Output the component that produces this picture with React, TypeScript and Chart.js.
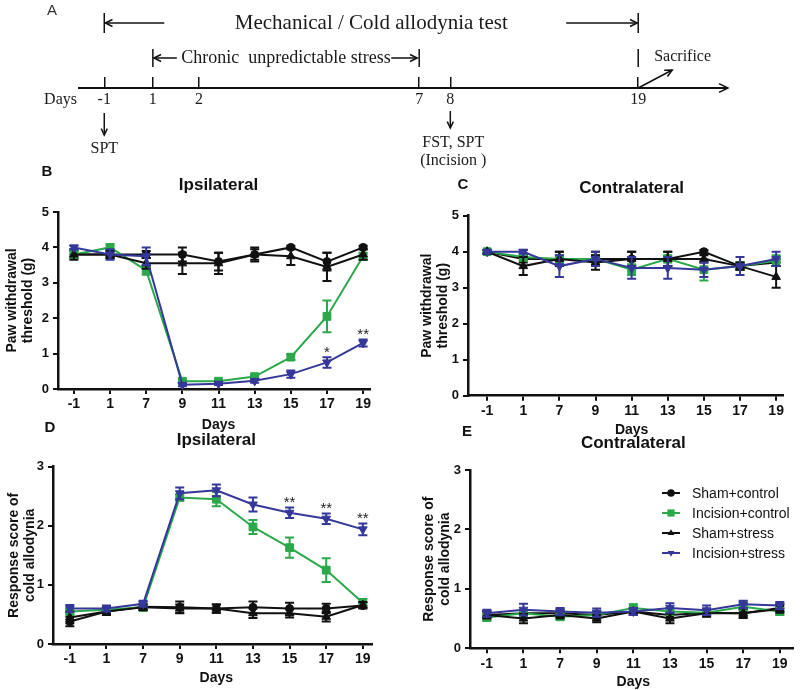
import React, { useEffect, useRef } from 'react';
import { Chart, registerables } from 'chart.js';

Chart.register(...registerables);

const FONT = "'Liberation Sans', Arial, Helvetica, sans-serif";
const SERIF = "'Liberation Serif', 'Times New Roman', Times, serif";
const INK = '#111111';
const GREEN = '#2aa84a';
const BLUE = '#35379a';

Chart.defaults.font.family = FONT;

// ---------- data ----------
const DAYS = ['-1', '1', '7', '9', '11', '13', '15', '17', '19'];
const SERIES_LABELS = ['Sham+control', 'Incision+control', 'Sham+stress', 'Incision+stress'];

// B: mechanical, ipsilateral (g)
const SHAM_CTRL_B = [3.8, 3.8, 3.8, 3.8, 3.6, 3.8, 4.0, 3.6, 4.0];
const SHAM_CTRL_B_ERR = [0.1, 0.1, 0.1, 0.2, 0.25, 0.2, 0.05, 0.25, 0.05];
const INC_CTRL_B = [3.8, 4.0, 3.35, 0.22, 0.22, 0.35, 0.9, 2.05, 3.75];
const INC_CTRL_B_ERR = [0.1, 0.08, 0.12, 0.05, 0.04, 0.05, 0.08, 0.45, 0.1];
const SHAM_STRESS_B = [3.8, 3.8, 3.55, 3.55, 3.55, 3.8, 3.75, 3.45, 3.8];
const SHAM_STRESS_B_ERR = [0.15, 0.1, 0.15, 0.3, 0.3, 0.15, 0.25, 0.4, 0.15];
const INC_STRESS_B = [4.0, 3.8, 3.75, 0.12, 0.15, 0.23, 0.42, 0.75, 1.3];
const INC_STRESS_B_ERR = [0.05, 0.15, 0.25, 0.04, 0.04, 0.05, 0.1, 0.15, 0.1];
const STARS_B = ['', '', '', '', '', '', '', '*', '**'];

// C: mechanical, contralateral (g)
const SHAM_CTRL_C = [4.0, 3.8, 3.8, 3.8, 3.8, 3.8, 4.0, 3.6, 3.7];
const SHAM_CTRL_C_ERR = [0.05, 0.1, 0.2, 0.2, 0.2, 0.2, 0.05, 0.1, 0.1];
const INC_CTRL_C = [4.0, 3.85, 3.8, 3.8, 3.5, 3.8, 3.5, 3.6, 3.75];
const INC_CTRL_C_ERR = [0.05, 0.1, 0.1, 0.1, 0.15, 0.1, 0.3, 0.1, 0.15];
const SHAM_STRESS_C = [4.0, 3.6, 3.8, 3.7, 3.8, 3.8, 3.8, 3.6, 3.3];
const SHAM_STRESS_C_ERR = [0.05, 0.25, 0.2, 0.2, 0.2, 0.2, 0.1, 0.1, 0.3];
const INC_STRESS_C = [4.0, 4.0, 3.6, 3.8, 3.55, 3.55, 3.5, 3.6, 3.8];
const INC_STRESS_C_ERR = [0.05, 0.05, 0.3, 0.2, 0.3, 0.3, 0.2, 0.25, 0.2];

// D: cold allodynia, ipsilateral (score)
const SHAM_CTRL_D = [0.38, 0.55, 0.63, 0.62, 0.6, 0.62, 0.6, 0.6, 0.65];
const SHAM_CTRL_D_ERR = [0.08, 0.06, 0.05, 0.1, 0.07, 0.1, 0.1, 0.08, 0.05];
const INC_CTRL_D = [0.55, 0.58, 0.62, 2.48, 2.45, 1.98, 1.63, 1.25, 0.7];
const INC_CTRL_D_ERR = [0.05, 0.05, 0.05, 0.05, 0.12, 0.12, 0.17, 0.2, 0.06];
const SHAM_STRESS_D = [0.45, 0.55, 0.62, 0.6, 0.6, 0.52, 0.52, 0.46, 0.66];
const SHAM_STRESS_D_ERR = [0.1, 0.06, 0.05, 0.07, 0.07, 0.08, 0.07, 0.08, 0.05];
const INC_STRESS_D = [0.6, 0.6, 0.68, 2.55, 2.6, 2.36, 2.22, 2.12, 1.94];
const INC_STRESS_D_ERR = [0.06, 0.05, 0.05, 0.1, 0.1, 0.12, 0.09, 0.09, 0.1];
const STARS_D = ['', '', '', '', '', '', '**', '**', '**'];

// E: cold allodynia, contralateral (score)
const SHAM_CTRL_E = [0.56, 0.59, 0.59, 0.56, 0.62, 0.56, 0.6, 0.59, 0.68];
const SHAM_CTRL_E_ERR = [0.06, 0.06, 0.06, 0.06, 0.06, 0.06, 0.06, 0.06, 0.06];
const INC_CTRL_E = [0.52, 0.59, 0.53, 0.56, 0.68, 0.62, 0.6, 0.7, 0.62];
const INC_CTRL_E_ERR = [0.06, 0.06, 0.05, 0.06, 0.06, 0.06, 0.06, 0.06, 0.06];
const SHAM_STRESS_E = [0.56, 0.5, 0.56, 0.5, 0.62, 0.5, 0.59, 0.59, 0.66];
const SHAM_STRESS_E_ERR = [0.06, 0.08, 0.06, 0.06, 0.06, 0.08, 0.06, 0.08, 0.06];
const INC_STRESS_E = [0.59, 0.65, 0.62, 0.6, 0.62, 0.68, 0.64, 0.74, 0.72];
const INC_STRESS_E_ERR = [0.06, 0.1, 0.06, 0.07, 0.06, 0.08, 0.08, 0.06, 0.06];

// A: timeline
const TIMELINE_DAYS = ['-1', '1', '2', '7', '8', '19'];
// schematic (non-proportional) placement of the day marks along the diagram, 0-100
const TIMELINE_LAYOUT = [3.9, 11.4, 18.5, 52.5, 57.3, 86.3];

// ---------- styles ----------
const SERIES_STYLE = [
  { color: INK, pointStyle: 'circle', rotation: 0, radius: 4 },
  { color: GREEN, pointStyle: 'rect', rotation: 0, radius: 5.5 },
  { color: INK, pointStyle: 'triangle', rotation: 0, radius: 5 },
  { color: BLUE, pointStyle: 'triangle', rotation: 180, radius: 5 },
];

type Box = { x: number; y: number; w: number; h: number };
type PanelSpec = {
  letter: string;
  title: string;
  yTitle: string[];
  yMax: number;
  values: number[][];
  errors: number[][];
  stars?: string[];
  legendAt?: [number, number];
  box: Box;
  area: { l: number; t: number; r: number; b: number };
  xMin: number;
  xMax: number;
  letterAt: [number, number];
  titleY: number;
  xTitleY: number;
  yTitleX: number;
};

const PANELS: PanelSpec[] = [
  {
    letter: 'B', title: 'Ipsilateral', yTitle: ['Paw withdrawal', 'threshold (g)'], yMax: 5,
    values: [SHAM_CTRL_B, INC_CTRL_B, SHAM_STRESS_B, INC_STRESS_B],
    errors: [SHAM_CTRL_B_ERR, INC_CTRL_B_ERR, SHAM_STRESS_B_ERR, INC_STRESS_B_ERR],
    stars: STARS_B,
    box: { x: 0, y: 160, w: 400, h: 280 }, area: { l: 58, t: 212, r: 370, b: 389 },
    xMin: -0.44, xMax: 8.19, letterAt: [47, 172], titleY: 185, xTitleY: 425, yTitleX: 12,
  },
  {
    letter: 'C', title: 'Contralateral', yTitle: ['Paw withdrawal', 'threshold (g)'], yMax: 5,
    values: [SHAM_CTRL_C, INC_CTRL_C, SHAM_STRESS_C, INC_STRESS_C],
    errors: [SHAM_CTRL_C_ERR, INC_CTRL_C_ERR, SHAM_STRESS_C_ERR, INC_STRESS_C_ERR],
    box: { x: 400, y: 160, w: 400, h: 280 }, area: { l: 468, t: 215.7, r: 783, b: 395.7 },
    xMin: -0.53, xMax: 8.19, letterAt: [463, 185], titleY: 188, xTitleY: 430, yTitleX: 427,
  },
  {
    letter: 'D', title: 'Ipsilateral', yTitle: ['Response score of', 'cold allodynia'], yMax: 3,
    values: [SHAM_CTRL_D, INC_CTRL_D, SHAM_STRESS_D, INC_STRESS_D],
    errors: [SHAM_CTRL_D_ERR, INC_CTRL_D_ERR, SHAM_STRESS_D_ERR, INC_STRESS_D_ERR],
    stars: STARS_D,
    box: { x: 0, y: 420, w: 400, h: 270 }, area: { l: 53, t: 466.7, r: 372, b: 644 },
    xMin: -0.46, xMax: 8.25, letterAt: [50, 428], titleY: 440, xTitleY: 678, yTitleX: 14,
  },
  {
    letter: 'E', title: 'Contralateral', yTitle: ['Response score of', 'cold allodynia'], yMax: 3,
    values: [SHAM_CTRL_E, INC_CTRL_E, SHAM_STRESS_E, INC_STRESS_E],
    errors: [SHAM_CTRL_E_ERR, INC_CTRL_E_ERR, SHAM_STRESS_E_ERR, INC_STRESS_E_ERR],
    legendAt: [671, 493],
    box: { x: 400, y: 420, w: 400, h: 270 }, area: { l: 470, t: 470, r: 793, b: 648.3 },
    xMin: -0.46, xMax: 8.36, letterAt: [467, 432], titleY: 443, xTitleY: 682, yTitleX: 429,
  },
];

// ---------- drawing helpers ----------
function drawMarker(ctx: CanvasRenderingContext2D, style: string, rot: number, x: number, y: number, r: number) {
  ctx.beginPath();
  if (style === 'circle') {
    ctx.arc(x, y, r, 0, Math.PI * 2);
  } else if (style === 'rect') {
    const s = r * 0.9;
    ctx.rect(x - s, y - s, 2 * s, 2 * s);
  } else {
    const d = rot === 180 ? -1 : 1;
    ctx.moveTo(x, y - d * r);
    ctx.lineTo(x - r * 0.9, y + d * r * 0.55);
    ctx.lineTo(x + r * 0.9, y + d * r * 0.55);
    ctx.closePath();
  }
  ctx.fill();
}

function arrowHead(ctx: CanvasRenderingContext2D, x1: number, y1: number, x2: number, y2: number, len = 8) {
  const a = Math.atan2(y2 - y1, x2 - x1);
  const s = 0.45;
  ctx.beginPath();
  ctx.moveTo(x2 - len * Math.cos(a - s), y2 - len * Math.sin(a - s));
  ctx.lineTo(x2, y2);
  ctx.lineTo(x2 - len * Math.cos(a + s), y2 - len * Math.sin(a + s));
  ctx.stroke();
}

function arrow(ctx: CanvasRenderingContext2D, x1: number, y1: number, x2: number, y2: number, len = 8) {
  ctx.beginPath();
  ctx.moveTo(x1, y1);
  ctx.lineTo(x2, y2);
  ctx.stroke();
  arrowHead(ctx, x1, y1, x2, y2, len);
}

function vbar(ctx: CanvasRenderingContext2D, x: number, y1: number, y2: number) {
  ctx.beginPath();
  ctx.moveTo(x, y1);
  ctx.lineTo(x, y2);
  ctx.stroke();
}

// ---------- timeline (panel A) ----------
const timelineDecor = {
  id: 'timelineDecor',
  afterDraw(chart: any) {
    const ctx: CanvasRenderingContext2D = chart.ctx;
    const xs = chart.scales.x;
    const ca = chart.chartArea;
    const at = (d: string) => xs.getPixelForValue(TIMELINE_LAYOUT[TIMELINE_DAYS.indexOf(d)]);
    const axisY = ca.bottom;
    ctx.save();
    ctx.strokeStyle = INK;
    ctx.fillStyle = '#1a1a1a';
    ctx.lineWidth = 1.5;
    ctx.textBaseline = 'middle';

    // axis arrow head
    arrowHead(ctx, ca.left, axisY, ca.right + 1, axisY, 10);

    // panel letter
    ctx.font = `15px ${FONT}`;
    ctx.textAlign = 'center';
    ctx.fillStyle = '#333';
    ctx.fillText('A', 52, 11);
    ctx.fillStyle = '#1a1a1a';

    // "Days" label
    ctx.font = `16px ${SERIF}`;
    ctx.textAlign = 'right';
    ctx.fillText('Days', ca.left - 2, axisY + 12);

    // row 1: Mechanical / Cold allodynia test
    const x0 = at('-1');
    const x19 = at('19');
    const r1 = 23;
    vbar(ctx, x0, 13, 33);
    vbar(ctx, x19, 13, 33);
    arrow(ctx, x0 + 60, r1, x0 + 1, r1);
    arrow(ctx, x19 - 72, r1, x19 - 1, r1);
    ctx.font = `21px ${SERIF}`;
    ctx.textAlign = 'center';
    ctx.fillText('Mechanical / Cold allodynia test', (x0 + x19) / 2, r1);

    // row 2: Chronic unpredictable stress
    const x1 = at('1');
    const x7 = at('7');
    const r2 = 58;
    vbar(ctx, x1, 49, 67);
    vbar(ctx, x7, 49, 67);
    vbar(ctx, x19, 49, 67);
    arrow(ctx, x1 + 24, r2, x1 + 1, r2);
    arrow(ctx, x7 - 28, r2, x7 - 2, r2);
    ctx.font = `18px ${SERIF}`;
    ctx.fillText('Chronic  unpredictable stress', (x1 + x7) / 2, r2);

    // sacrifice
    ctx.textAlign = 'left';
    ctx.font = `16px ${SERIF}`;
    ctx.fillText('Sacrifice', x19 + 16, 57);
    arrow(ctx, x19, axisY, x19 + 34, axisY - 18, 8);

    // down arrows and notes
    const x8 = at('8');
    arrow(ctx, x0, 113, x0, 135, 7);
    arrow(ctx, x8, 111, x8, 128, 7);
    ctx.textAlign = 'center';
    ctx.font = `16px ${SERIF}`;
    ctx.fillText('SPT', x0, 149);
    ctx.fillText('FST, SPT', x8 + 3, 143);
    ctx.fillText('(Incision )', x8 + 3, 161);
    ctx.restore();
  },
};

function timelineConfig(): any {
  return {
    type: 'scatter',
    data: { datasets: [{ data: [] }] },
    options: {
      animation: false,
      responsive: false,
      maintainAspectRatio: false,
      events: [],
      layout: { padding: { left: 79, right: 73, top: 77, bottom: 62 } },
      plugins: { legend: { display: false }, tooltip: { enabled: false } },
      scales: {
        x: {
          type: 'linear',
          min: 0,
          max: 100,
          afterBuildTicks: (s: any) => {
            s.ticks = TIMELINE_LAYOUT.map((v) => ({ value: v }));
          },
          afterFit: (s: any) => {
            s.height = 20;
          },
          grid: { display: true, drawOnChartArea: true, drawTicks: false, color: INK, lineWidth: 1.5 },
          border: { display: true, color: INK, width: 2 },
          ticks: {
            autoSkip: false,
            maxRotation: 0,
            padding: 2,
            color: '#1a1a1a',
            font: { family: SERIF, size: 16 },
            callback: (_v: any, i: number) => TIMELINE_DAYS[i],
          },
        },
        y: { display: false, min: 0, max: 1 },
      },
    },
    plugins: [timelineDecor],
  };
}

// ---------- data panels ----------
function errorBarPlugin(p: PanelSpec) {
  return {
    id: 'errorBars',
    beforeDatasetDraw(chart: any, args: any) {
      const i = args.index;
      const st = SERIES_STYLE[i];
      const vals = p.values[i];
      const errs = p.errors[i];
      const xs = chart.scales.x;
      const ys = chart.scales.y;
      const ctx: CanvasRenderingContext2D = chart.ctx;
      ctx.save();
      ctx.strokeStyle = st.color;
      ctx.lineWidth = 2;
      vals.forEach((v, j) => {
        const e = errs[j];
        if (!e) return;
        const px = xs.getPixelForValue(j);
        const y1 = ys.getPixelForValue(v + e);
        const y2 = ys.getPixelForValue(v - e);
        ctx.beginPath();
        ctx.moveTo(px, y1);
        ctx.lineTo(px, y2);
        ctx.moveTo(px - 4.5, y1);
        ctx.lineTo(px + 4.5, y1);
        ctx.moveTo(px - 4.5, y2);
        ctx.lineTo(px + 4.5, y2);
        ctx.stroke();
      });
      ctx.restore();
    },
  };
}

function decorPlugin(p: PanelSpec) {
  return {
    id: 'panelDecor',
    afterDraw(chart: any) {
      const ctx: CanvasRenderingContext2D = chart.ctx;
      const xs = chart.scales.x;
      const ys = chart.scales.y;
      const ox = p.box.x;
      const oy = p.box.y;
      const cx = (xs.getPixelForValue(0) + xs.getPixelForValue(DAYS.length - 1)) / 2;
      ctx.save();
      ctx.fillStyle = INK;
      ctx.textAlign = 'center';
      ctx.textBaseline = 'middle';
      ctx.font = `bold 15px ${FONT}`;
      ctx.fillText(p.letter, p.letterAt[0] - ox, p.letterAt[1] - oy);
      ctx.font = `bold 17px ${FONT}`;
      ctx.fillText(p.title, cx, p.titleY - oy);
      ctx.font = `bold 14px ${FONT}`;
      ctx.fillText('Days', cx, p.xTitleY - oy);

      if (p.stars) {
        const k = 3;
        ctx.font = `15px ${FONT}`;
        ctx.textBaseline = 'alphabetic';
        ctx.fillStyle = '#222';
        p.stars.forEach((s, j) => {
          if (!s) return;
          const top = ys.getPixelForValue(p.values[k][j] + p.errors[k][j]);
          ctx.fillText(s, xs.getPixelForValue(j), top);
        });
      }

      if (p.legendAt) {
        const lx = p.legendAt[0] - ox;
        const ly = p.legendAt[1] - oy;
        ctx.font = `14px ${FONT}`;
        ctx.textAlign = 'left';
        ctx.textBaseline = 'middle';
        SERIES_LABELS.forEach((label, i) => {
          const st = SERIES_STYLE[i];
          const y = ly + i * 20;
          ctx.strokeStyle = st.color;
          ctx.fillStyle = st.color;
          ctx.lineWidth = 2;
          ctx.beginPath();
          ctx.moveTo(lx - 9, y);
          ctx.lineTo(lx + 9, y);
          ctx.stroke();
          drawMarker(ctx, st.pointStyle, st.rotation, lx, y, st.pointStyle === 'rect' ? 4 : 3.8);
          ctx.fillStyle = INK;
          ctx.fillText(label, lx + 21, y + 1);
        });
      }
      ctx.restore();
    },
  };
}

function panelConfig(p: PanelSpec): any {
  const lhY = 14 * 1.18;
  const axisGrid = {
    display: true,
    drawOnChartArea: false,
    drawTicks: true,
    tickLength: 5,
    tickWidth: 2,
    lineWidth: 2,
    color: INK,
  };
  const axisBorder = { display: true, color: INK, width: 2.5 };
  return {
    type: 'line',
    data: {
      datasets: SERIES_LABELS.map((label, i) => {
        const st = SERIES_STYLE[i];
        return {
          label,
          data: p.values[i].map((v, j) => ({ x: j, y: v })),
          borderColor: st.color,
          backgroundColor: st.color,
          borderWidth: 2,
          pointStyle: st.pointStyle,
          pointRotation: st.rotation,
          pointRadius: st.radius,
          pointBackgroundColor: st.color,
          pointBorderColor: st.color,
          pointBorderWidth: 1,
          tension: 0,
          fill: false,
          clip: false,
          order: 3 - i,
        };
      }),
    },
    options: {
      animation: false,
      responsive: false,
      maintainAspectRatio: false,
      events: [],
      layout: {
        padding: {
          left: 0,
          top: p.area.t - p.box.y,
          right: p.box.x + p.box.w - p.area.r,
          bottom: 0,
        },
      },
      plugins: { legend: { display: false }, tooltip: { enabled: false }, title: { display: false } },
      scales: {
        x: {
          type: 'linear',
          min: p.xMin,
          max: p.xMax,
          afterBuildTicks: (s: any) => {
            s.ticks = DAYS.map((_, i) => ({ value: i }));
          },
          afterFit: (s: any) => {
            s.height = p.box.y + p.box.h - p.area.b;
          },
          grid: axisGrid,
          border: axisBorder,
          ticks: {
            autoSkip: false,
            maxRotation: 0,
            padding: 2,
            color: INK,
            font: { size: 14, weight: 'bold' },
            callback: (_v: any, i: number) => DAYS[i],
          },
        },
        y: {
          type: 'linear',
          min: 0,
          max: p.yMax,
          afterFit: (s: any) => {
            s.width = p.area.l - p.box.x;
          },
          grid: axisGrid,
          border: axisBorder,
          ticks: { stepSize: 1, padding: 4, color: INK, font: { size: 13, weight: 'bold' } },
          title: {
            display: true,
            text: p.yTitle,
            color: INK,
            font: { size: 14, weight: 'bold', lineHeight: 1.18 },
            padding: { top: Math.max(0, p.yTitleX - p.box.x - lhY / 2), bottom: 0 },
          },
        },
      },
    },
    plugins: [errorBarPlugin(p), decorPlugin(p)],
  };
}

function ChartCanvas({ box, makeConfig }: { box: Box; makeConfig: () => any }) {
  const ref = useRef<HTMLCanvasElement>(null);
  useEffect(() => {
    if (!ref.current) return;
    const chart = new Chart(ref.current, makeConfig());
    return () => chart.destroy();
  }, []);
  return (
    <canvas
      ref={ref}
      width={box.w}
      height={box.h}
      style={{ position: 'absolute', left: box.x, top: box.y, width: box.w, height: box.h }}
    />
  );
}

export default function App() {
  return (
    <div
      style={{
        position: 'absolute',
        left: 0,
        top: 0,
        width: 800,
        height: 690,
        overflow: 'hidden',
        background: '#ffffff',
      }}
    >
      <ChartCanvas box={{ x: 0, y: 0, w: 800, h: 170 }} makeConfig={timelineConfig} />
      {PANELS.map((p) => (
        <ChartCanvas key={p.letter} box={p.box} makeConfig={() => panelConfig(p)} />
      ))}
    </div>
  );
}
